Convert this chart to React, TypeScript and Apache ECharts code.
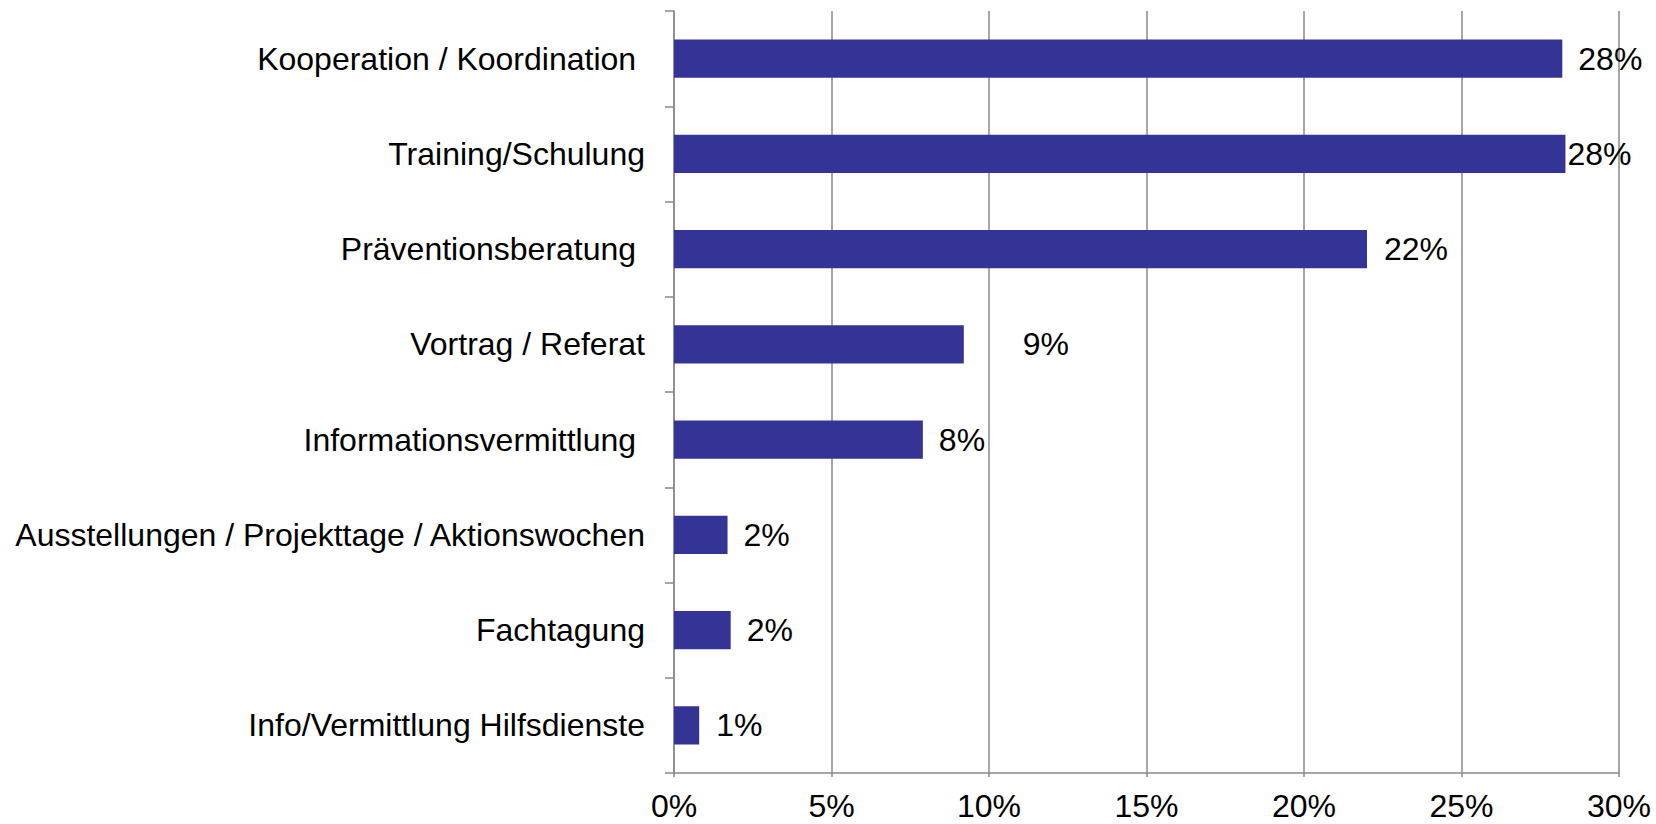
import React, { useEffect, useRef } from "react";
import * as echarts from "echarts";

const categories = [
  "Kooperation / Koordination ",
  "Training/Schulung",
  "Präventionsberatung ",
  "Vortrag / Referat",
  "Informationsvermittlung ",
  "Ausstellungen / Projekttage / Aktionswochen",
  "Fachtagung",
  "Info/Vermittlung Hilfsdienste",
];
const values = [28.2, 28.3, 22.0, 9.2, 7.9, 1.7, 1.8, 0.8];
const labelDistances = [16, 2, 17, 59, 16, 16, 16, 17];
const xTicks = { min: 0, max: 30, interval: 5 };

export default function App() {
  const ref = useRef<HTMLDivElement>(null);
  useEffect(() => {
    if (!ref.current) return;
    const chart = echarts.init(ref.current, null, { renderer: "svg" });
    const font = "'Liberation Sans', Arial, sans-serif";
    const gray = "#8a8a8a";
    chart.setOption({
      animation: false,
      backgroundColor: "#ffffff",
      grid: { left: 674, right: 37, top: 11, bottom: 51, containLabel: false },
      xAxis: {
        type: "value",
        min: xTicks.min,
        max: xTicks.max,
        interval: xTicks.interval,
        axisLine: { show: true, lineStyle: { color: gray, width: 1.5 } },
        axisTick: { show: true, length: 4, lineStyle: { color: gray, width: 1.5 } },
        splitLine: { show: true, lineStyle: { color: gray, width: 1.5 } },
        axisLabel: {
          formatter: "{value}%",
          color: "#000",
          fontFamily: font,
          fontSize: 32,
          margin: 17,
        },
      },
      yAxis: {
        type: "category",
        inverse: true,
        data: categories,
        axisLine: { show: true, lineStyle: { color: gray, width: 1.5 } },
        axisTick: { show: true, length: 9, lineStyle: { color: gray, width: 1.5 } },
        axisLabel: {
          color: "#000",
          fontFamily: font,
          fontSize: 32,
          margin: 29,
        },
      },
      series: [
        {
          type: "bar",
          data: values.map((v, i) => ({
            value: v,
            label: { distance: labelDistances[i] },
          })),
          barCategoryGap: "60%",
          itemStyle: { color: "#343497" },
          label: {
            show: true,
            position: "right",
            color: "#000",
            fontFamily: font,
            fontSize: 32,
            formatter: (p: any) => Math.round(p.value) + "%",
          },
        },
      ],
    });
    return () => chart.dispose();
  }, []);
  return (
    <div
      ref={ref}
      style={{ position: "fixed", left: 0, top: 0, width: 1656, height: 824 }}
    />
  );
}
